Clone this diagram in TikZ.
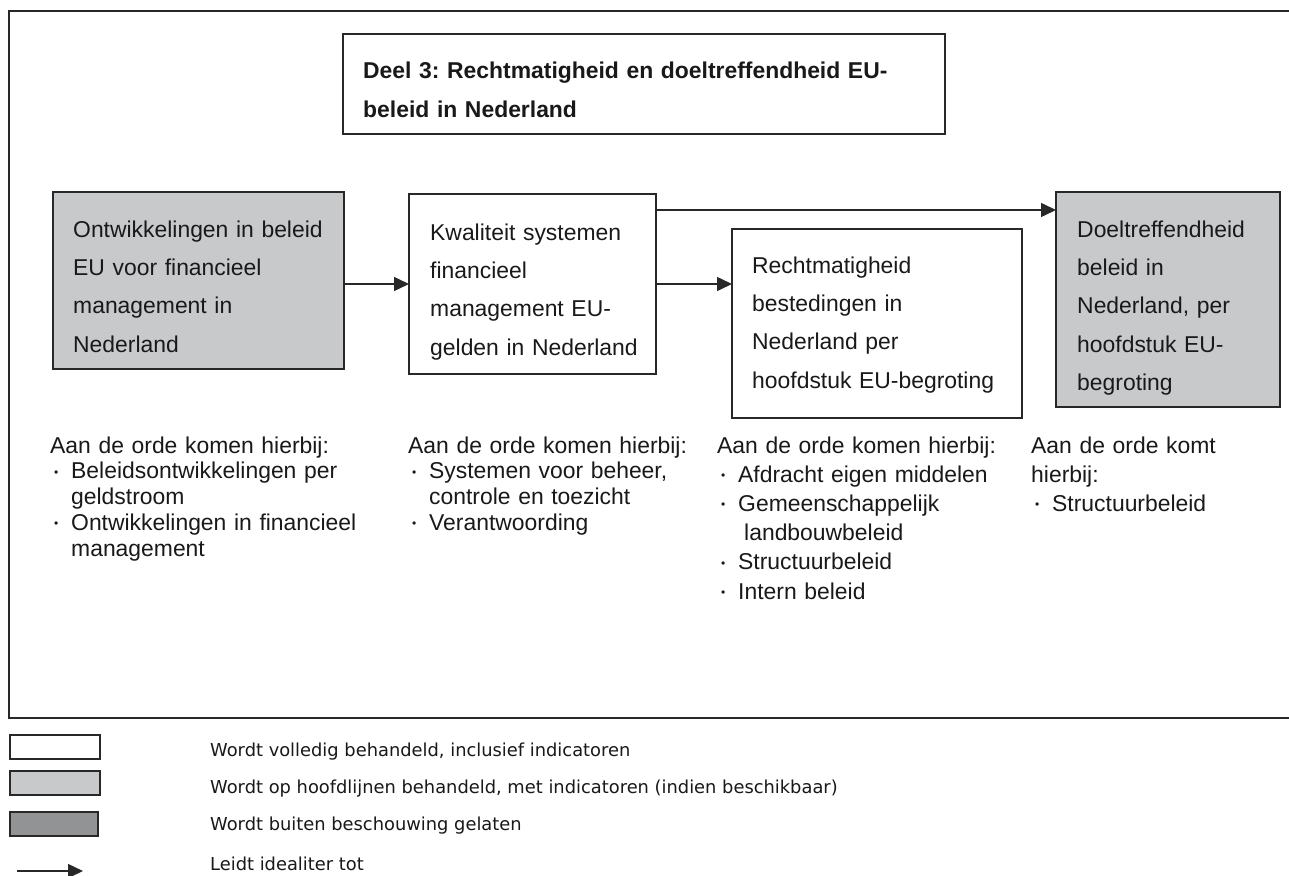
\documentclass[tikz,border=0pt]{standalone}
\usepackage{fontspec}
\setmainfont{Liberation Sans}
\newfontfamily\legfont{DejaVu Sans}
\usetikzlibrary{arrows.meta}
\definecolor{lightfill}{RGB}{200,201,203}
\definecolor{darkfill}{RGB}{146,147,149}
\definecolor{edgec}{RGB}{40,40,40}
\definecolor{ink}{RGB}{25,25,25}
\newcommand\bul{\makebox[21pt][l]{\hspace{4pt}\raisebox{2.5pt}{\fontsize{12}{12}\selectfont\textbullet}}}
\frenchspacing
\begin{document}
\begin{tikzpicture}[x=1pt,y=-1pt,
  box/.style={draw=edgec,line width=1.8pt,anchor=north west,inner sep=0pt,outer sep=0pt},
  whitebox/.style={box,fill=white},
  greybox/.style={box,fill=lightfill},
  darkbox/.style={box,fill=darkfill},
  boxtext/.style={anchor=base west,inner sep=0pt,align=left,text width=300pt,text=ink,font=\fontsize{22.9}{38.4}\selectfont},
  listtext/.style={anchor=base west,inner sep=0pt,align=left,text width=330pt,text=ink,font=\fontsize{22.9}{25.8}\selectfont},
  widelist/.style={listtext,font=\fontsize{22.9}{29.2}\selectfont},
  legtext/.style={anchor=base west,inner sep=0pt,text=ink,font=\legfont\fontsize{17.85}{17.85}\selectfont},
  arr/.style={draw=edgec,line width=1.5pt,-{Triangle[length=15pt,width=14pt]}},
  frame/.style={draw=edgec,line width=1.8pt}
]
\useasboundingbox (0,0) rectangle (1289,875);
\fill[white] (0,0) rectangle (1289,875);

% outer frame (open to the right)
\draw[frame] (1289,11) -- (9,11) -- (9,718) -- (1289,718);

% title
\node[whitebox,minimum width=602pt,minimum height=100pt] (title) at (343,34) {};
\node[boxtext,font=\bfseries\fontsize{22.9}{39}\selectfont,text width=580pt] (titletxt) at (363,78)
  {Deel 3: Rechtmatigheid en doeltreffendheid EU-\\beleid in Nederland};

% main boxes
\node[greybox,minimum width=291pt,minimum height=177pt] (b1) at (53,192) {};
\node[whitebox,minimum width=247pt,minimum height=180pt] (b2) at (409,194) {};
\node[whitebox,minimum width=290pt,minimum height=189pt] (b3) at (732,229) {};
\node[greybox,minimum width=224pt,minimum height=215pt] (b4) at (1056,192) {};

\node[boxtext] (t1) at (73,237)
  {Ontwikkelingen in beleid\\EU voor financieel\\management in\\Nederland};
\node[boxtext] (t2) at (430,240)
  {Kwaliteit systemen\\financieel\\management EU-\\gelden in Nederland};
\node[boxtext] (t3) at (752,273)
  {Rechtmatigheid\\bestedingen in\\Nederland per\\hoofdstuk EU-begroting};
\node[boxtext] (t4) at (1077,237)
  {Doeltreffendheid\\beleid in\\Nederland, per\\hoofdstuk EU-\\begroting};

% connectors
\draw[arr] (b1.east |- b2.west) -- (b2.west);
\draw[arr] (b2.east) -- (b2.east -| b3.west);
\coordinate (a3s) at ([yshift=-16pt]b2.north east);
\draw[arr] (a3s) -- (a3s -| b4.west);

% lists
\node[listtext] (l1) at (50,453)
  {Aan de orde komen hierbij:\\
   \bul Beleidsontwikkelingen per\\
   \hspace*{21pt}geldstroom\\
   \bul Ontwikkelingen in financieel\\
   \hspace*{21pt}management};
\node[listtext] (l2) at (408,453)
  {Aan de orde komen hierbij:\\
   \bul Systemen voor beheer,\\
   \hspace*{21pt}controle en toezicht\\
   \bul Verantwoording};
\node[widelist] (l3) at (717,453)
  {Aan de orde komen hierbij:\\
   \bul Afdracht eigen middelen\\
   \bul Gemeenschappelijk\\
   \hspace*{27pt}landbouwbeleid\\
   \bul Structuurbeleid\\
   \bul Intern beleid};
\node[widelist] (l4) at (1031,453)
  {Aan de orde komt\\
   hierbij:\\
   \bul Structuurbeleid};

% legend
\node[whitebox,minimum width=90pt,minimum height=24pt] (lg1) at (10,735) {};
\node[greybox,minimum width=90pt,minimum height=24pt] (lg2) at (10,771) {};
\node[darkbox,minimum width=88pt,minimum height=24pt] (lg3) at (10,812) {};
\coordinate (lgas) at (17,871);
\coordinate (lgae) at (83,871);
\draw[arr] (lgas) -- (lgae);

\node[legtext] (lt1) at (210,756) {Wordt volledig behandeld, inclusief indicatoren};
\node[legtext] (lt2) at (210,793) {Wordt op hoofdlijnen behandeld, met indicatoren (indien beschikbaar)};
\node[legtext] (lt3) at (210,830) {Wordt buiten beschouwing gelaten};
\node[legtext] (lt4) at (210,870) {Leidt idealiter tot};
\end{tikzpicture}
\end{document}
